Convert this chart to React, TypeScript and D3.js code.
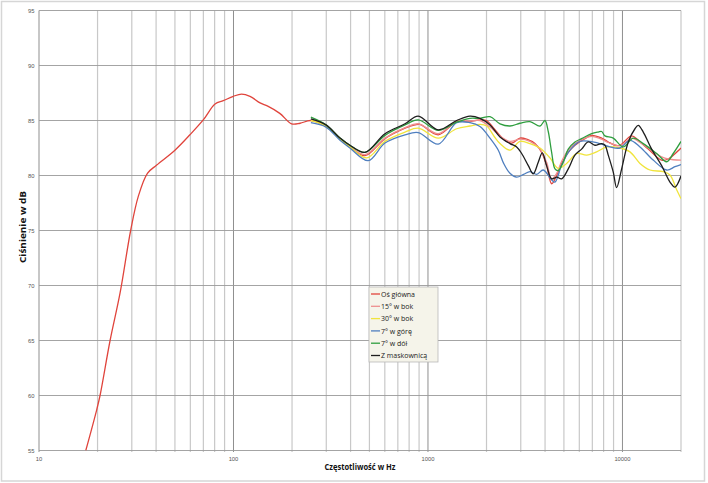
import React from 'react';
import * as d3 from 'd3';

type Pt = [number, number];

// frequency [Hz], level [dB]
const osGlowna: Pt[] = [
  [17.4, 55], [19.8, 58.7], [20.6, 60], [23.2, 65], [26.1, 69.3], [29.6, 75], [32.4, 78.1],
  [36.1, 80.2], [40.3, 80.95], [50, 82.3], [59.7, 83.7], [69.9, 85.05], [80.4, 86.5], [88.6, 86.8],
  [99.8, 87.2], [110, 87.4], [121.6, 87.2], [137, 86.6], [150, 86.3], [173, 85.65], [199, 84.7],
  [220, 84.75], [250, 85.0], [299, 84.45], [353, 83.3], [397, 82.6], [474, 81.8], [601, 83.35],
  [762, 84.3], [857, 84.6], [910, 84.65], [1130, 83.7], [1405, 84.9], [1644, 84.9], [1851, 85.05],
  [2000, 85.0], [2200, 84.2], [2450, 83.3], [2700, 82.95], [2972, 83.4], [3217, 83.3], [3548, 82.9],
  [3842, 82.1], [4074, 80.9], [4324, 79.25], [4589, 80.0], [4869, 81.1], [5264, 82.1], [5698, 82.75],
  [6415, 83.35], [6944, 83.65], [7817, 83.4], [8453, 83.05], [9150, 82.75], [9700, 82.75],
  [11150, 83.6], [12058, 83.2], [13572, 82.4], [15905, 81.4], [17204, 81.5], [20000, 82.5],
];

const bok15: Pt[] = [
  [250, 85.05], [299, 84.5], [353, 83.35], [397, 82.65], [474, 81.9], [601, 83.4], [762, 84.35],
  [891, 84.7], [1130, 83.8], [1405, 84.95], [1644, 84.95], [1851, 85.0], [2084, 84.4], [2346, 83.6],
  [2640, 83.1], [2972, 83.3], [3345, 83.1], [3765, 82.4], [4074, 81.2], [4324, 79.7], [4589, 80.2],
  [4869, 81.3], [5264, 82.3], [5698, 82.9], [6415, 83.4], [6944, 83.55], [7817, 83.3], [8453, 83.0],
  [9700, 82.7], [11150, 83.4], [12058, 83.1], [13572, 82.5], [15905, 81.7], [17204, 81.5], [20000, 81.4],
];

const bok30: Pt[] = [
  [250, 85.0], [299, 84.5], [353, 83.3], [397, 82.6], [484, 81.6], [601, 83.1], [762, 83.95],
  [891, 84.3], [1130, 83.4], [1405, 84.25], [1644, 84.5], [1851, 84.65], [2004, 84.5], [2200, 83.5],
  [2346, 82.9], [2640, 82.3], [2972, 83.1], [3345, 82.9], [3765, 82.5], [4238, 81.6], [4677, 80.65],
  [5164, 81.1], [5814, 82.0], [6546, 81.85], [7369, 82.15], [8295, 82.6], [9706, 82.5], [10930, 82.15],
  [12303, 81.1], [13850, 80.5], [16212, 80.35], [17553, 80.05], [18996, 78.7], [20000, 77.9],
];

const gora7: Pt[] = [
  [250, 84.8], [299, 84.4], [353, 83.2], [397, 82.5], [493, 81.35], [601, 82.95], [762, 83.7],
  [891, 83.9], [1130, 82.85], [1405, 84.8], [1644, 84.8], [1851, 84.45], [2084, 83.4], [2300, 82.3],
  [2450, 81.1], [2640, 80.2], [2858, 79.85], [3100, 80.1], [3345, 80.35], [3622, 80.1], [3915, 80.5],
  [4324, 79.6], [4498, 79.4], [4869, 80.95], [5370, 82.3], [6046, 83.1], [6808, 83.1], [7662, 82.9],
  [8626, 82.6], [9706, 82.5], [10930, 83.2], [12303, 82.6], [14388, 81.4], [16879, 80.5],
  [18620, 80.8], [20000, 81.0],
];

const dol7: Pt[] = [
  [250, 85.3], [299, 84.6], [353, 83.4], [397, 82.75], [474, 82.1], [601, 83.65], [762, 84.6],
  [891, 85.05], [1130, 84.1], [1405, 84.85], [1644, 85.2], [1851, 85.2], [2084, 85.35], [2346, 84.7],
  [2640, 84.5], [2972, 84.75], [3345, 84.9], [3765, 84.5], [3995, 85.0], [4154, 84.0], [4324, 82.1],
  [4498, 80.6], [4677, 80.45], [4961, 81.2], [5264, 82.4], [5698, 83.05], [6166, 83.35], [6944, 83.8],
  [7510, 83.95], [7817, 84.0], [8128, 83.6], [8969, 83.4], [10093, 82.6], [11363, 83.4], [12794, 82.9],
  [14991, 82.0], [16879, 81.25], [18239, 82.0], [20000, 83.1],
];

const maskownica: Pt[] = [
  [250, 85.15], [299, 84.6], [353, 83.4], [397, 82.75], [474, 82.1], [601, 83.8], [762, 84.7],
  [891, 85.4], [1130, 84.15], [1405, 85.0], [1644, 85.4], [1851, 85.2], [2084, 84.6], [2346, 83.5],
  [2640, 82.9], [2858, 82.6], [3032, 82.0], [3280, 80.9], [3478, 80.15], [3690, 81.2], [3870, 82.05],
  [4074, 80.9], [4324, 79.7], [4589, 79.85], [4869, 79.7], [5264, 80.6], [5698, 81.85], [6166, 82.4],
  [6668, 83.05], [7221, 82.75], [7817, 82.9], [8128, 82.75], [8453, 81.85], [8969, 80.3], [9333, 78.9],
  [9906, 80.6], [10715, 83.05], [11596, 84.25], [12058, 84.55], [12794, 83.95], [14125, 82.4],
  [15905, 80.9], [17553, 79.4], [18620, 78.95], [20000, 79.95],
];

const seriesNames = ['Oś główna', '15° w bok', '30° w bok', '7° w górę', '7° w dół', 'Z maskownicą'];
const seriesColors = ['#e0443c', '#ee8f8f', '#f0e43c', '#4f7fbf', '#2f9e3f', '#1e1e1e'];
const seriesData = [osGlowna, bok15, bok30, gora7, dol7, maskownica];

const yTicks = [55, 60, 65, 70, 75, 80, 85, 90, 95];
const xTickLabels = [10, 100, 1000, 10000];
const decades = [10, 100, 1000, 10000];

const App: React.FC = () => {
  const left = 39, right = 681, top = 10.5, bottom = 450.5;
  const x = d3.scaleLog().domain([10, 20000]).range([left, right]);
  const y = d3.scaleLinear().domain([55, 95]).range([bottom, top]);

  const line = d3.line<Pt>()
    .x(d => x(d[0]))
    .y(d => y(d[1]))
    .curve(d3.curveCatmullRom.alpha(0.5));

  // minor log gridlines 20..90, 200..900 etc.
  const minor: number[] = [];
  decades.forEach(d => {
    for (let m = 2; m <= 9; m++) if (m * d <= 20000) minor.push(m * d);
  });

  const legX = 369, legY = 287;
  const rowStep = 12.3;

  return (
    <div style={{ position: 'absolute', left: 0, top: 0 }}>
      <svg width={708} height={483} style={{ display: 'block', background: '#fff' }}>
        <rect x={1.5} y={1.5} width={703} height={479.5} fill="#fff" stroke="#d6d6d6" strokeWidth={1.5} />
        <defs>
          <clipPath id="plot">
            <rect x={left} y={top} width={right - left} height={bottom - top} />
          </clipPath>
        </defs>

        {/* vertical grid */}
        {minor.map(v => (
          <line key={'m' + v} x1={x(v)} x2={x(v)} y1={top} y2={bottom + 1.5}
            stroke="#c8c8c8" strokeWidth={1.2} />
        ))}
        {decades.map(v => (
          <line key={'d' + v} x1={x(v)} x2={x(v)} y1={top} y2={bottom + 1.5}
            stroke="#8f8f8f" strokeWidth={1} />
        ))}
        {/* horizontal grid */}
        {yTicks.map(v => (
          <line key={'h' + v} x1={left} x2={right} y1={y(v)} y2={y(v)}
            stroke="#9a9a9a" strokeWidth={0.9} />
        ))}

        {/* tick labels */}
        {yTicks.map(v => (
          <text key={'yt' + v} x={34.5} y={y(v) + 2} textAnchor="end"
            fontFamily="Liberation Sans, Arial, sans-serif" fontSize={5.8} fill="#555">{v}</text>
        ))}
        {xTickLabels.map(v => (
          <text key={'xt' + v} x={x(v)} y={461} textAnchor="middle"
            fontFamily="Liberation Sans, Arial, sans-serif" fontSize={5.8} fill="#555">{v}</text>
        ))}

        {/* curves */}
        <g clipPath="url(#plot)" fill="none">
          {seriesData.map((s, i) => (
            <path key={seriesNames[i]} d={line(s) || ''} stroke={seriesColors[i]} strokeWidth={1.3} />
          ))}
        </g>

        {/* axis titles */}
        <text x={360} y={469.5} textAnchor="middle" fontFamily="Open Sans, Liberation Sans, sans-serif"
          fontWeight={700} fontSize={9.5} fill="#111" textLength={71} lengthAdjust="spacingAndGlyphs">
          Częstotliwość w Hz
        </text>
        <text transform={`translate(26,227) rotate(-90)`} textAnchor="middle"
          fontFamily="Open Sans, Liberation Sans, sans-serif" fontWeight={700} fontSize={9.5} fill="#111"
          textLength={72} lengthAdjust="spacingAndGlyphs">
          Ciśnienie w dB
        </text>

        {/* legend */}
        <rect x={legX} y={legY} width={69} height={75} fill="#f5f4ea" stroke="#b8b8b8" strokeWidth={0.8} />
        {seriesNames.map((n, i) => {
          const cy = legY + 7 + i * rowStep;
          return (
            <g key={'l' + n}>
              <line x1={legX + 2} x2={legX + 11} y1={cy} y2={cy} stroke={seriesColors[i]} strokeWidth={1.3} />
              <text x={legX + 12} y={cy + 2.6} fontFamily="Open Sans, Liberation Sans, sans-serif"
                fontSize={7} fill="#222">{n}</text>
            </g>
          );
        })}
      </svg>
    </div>
  );
};

export default App;
